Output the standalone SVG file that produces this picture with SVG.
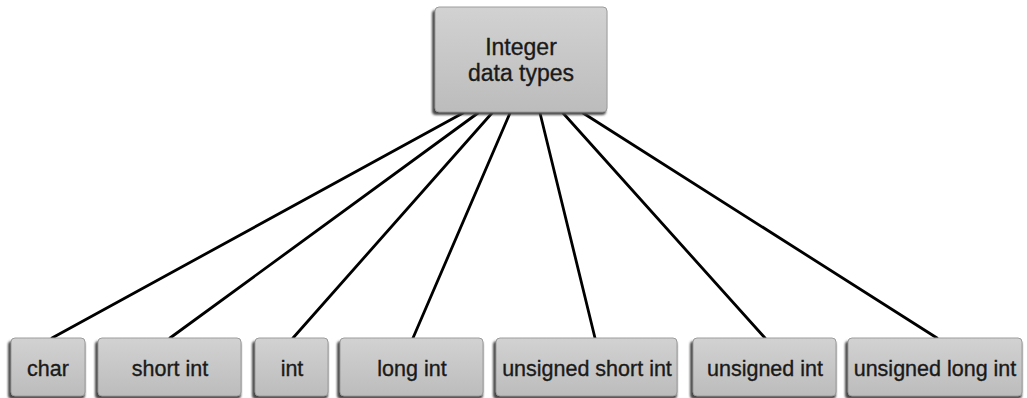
<svg xmlns="http://www.w3.org/2000/svg" width="1027" height="398" viewBox="0 0 1027 398">
  <defs>
    <linearGradient id="boxFill" x1="0" y1="0" x2="0" y2="1">
      <stop offset="0" stop-color="#d2d2d2"/>
      <stop offset="1" stop-color="#bcbcbc"/>
    </linearGradient>
    <filter id="soft" x="-10%" y="-10%" width="120%" height="130%">
      <feGaussianBlur stdDeviation="1.2"/>
    </filter>
    <style>
      .shadow { fill: #4a4a4a; filter: url(#soft); }
      .box { fill: url(#boxFill); stroke: #9c9c9c; stroke-width: 1; }
      .label { font-family: "Liberation Sans", Arial, sans-serif; fill: #1a1a1a; stroke: #1a1a1a; stroke-width: 0.35; text-anchor: middle; }
      .top { font-size: 23px; }
      .leaf { font-size: 21.5px; }
      .link { stroke: #000; stroke-width: 2.8; fill: none; stroke-linecap: round; }
    </style>
  </defs>
  <rect width="1027" height="398" fill="#fff"/>

  <g id="connectors">
    <line class="link" x1="463" y1="113" x2="52" y2="338"/>
    <line class="link" x1="478" y1="113" x2="170" y2="338"/>
    <line class="link" x1="492" y1="113" x2="293" y2="338"/>
    <line class="link" x1="510" y1="113" x2="413" y2="338"/>
    <line class="link" x1="540" y1="113" x2="595" y2="338"/>
    <line class="link" x1="563" y1="113" x2="765" y2="338"/>
    <line class="link" x1="583" y1="113" x2="937" y2="338"/>
  </g>

  <g id="integer-data-types">
    <rect class="shadow" x="432" y="10" width="174" height="105" rx="4"/>
    <rect class="box" x="435" y="7" width="172" height="105" rx="4"/>
    <text class="label top" x="521" y="55">Integer</text>
    <text class="label top" x="521" y="81">data types</text>
  </g>

  <g id="char">
    <rect class="shadow" x="8" y="341" width="77" height="58" rx="4"/>
    <rect class="box" x="11" y="338" width="74" height="58" rx="4"/>
    <text class="label leaf" x="48" y="376">char</text>
  </g>

  <g id="short-int">
    <rect class="shadow" x="95" y="341" width="146" height="58" rx="4"/>
    <rect class="box" x="98" y="338" width="143" height="58" rx="4"/>
    <text class="label leaf" x="170" y="376">short int</text>
  </g>

  <g id="int">
    <rect class="shadow" x="252" y="341" width="76" height="58" rx="4"/>
    <rect class="box" x="255" y="338" width="73" height="58" rx="4"/>
    <text class="label leaf" x="292" y="376">int</text>
  </g>

  <g id="long-int">
    <rect class="shadow" x="337" y="341" width="146" height="58" rx="4"/>
    <rect class="box" x="340" y="338" width="143" height="58" rx="4"/>
    <text class="label leaf" x="412" y="376">long int</text>
  </g>

  <g id="unsigned-short-int">
    <rect class="shadow" x="493" y="341" width="184" height="58" rx="4"/>
    <rect class="box" x="496" y="338" width="181" height="58" rx="4"/>
    <text class="label leaf" x="587" y="376">unsigned short int</text>
  </g>

  <g id="unsigned-int">
    <rect class="shadow" x="690" y="341" width="146" height="58" rx="4"/>
    <rect class="box" x="693" y="338" width="143" height="58" rx="4"/>
    <text class="label leaf" x="765" y="376">unsigned int</text>
  </g>

  <g id="unsigned-long-int">
    <rect class="shadow" x="845" y="341" width="177" height="58" rx="4"/>
    <rect class="box" x="848" y="338" width="174" height="58" rx="4"/>
    <text class="label leaf" x="935" y="376">unsigned long int</text>
  </g>
</svg>
